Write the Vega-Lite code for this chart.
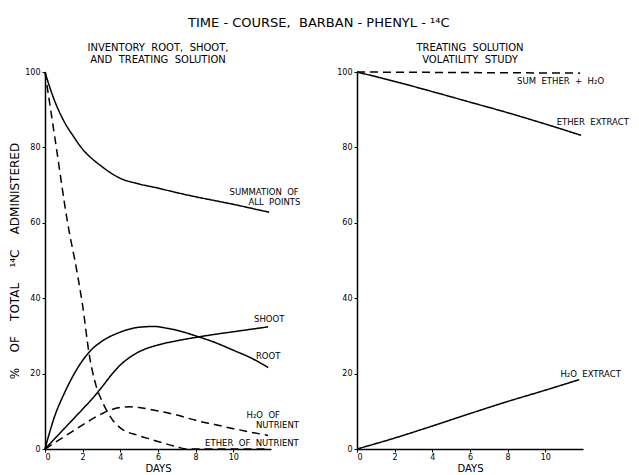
{
  "$schema": "https://vega.github.io/schema/vega-lite/v6.json",
  "background": "white",
  "padding": {"left": 8, "top": 17, "right": 5, "bottom": 5},
  "bounds": "flush",
  "spacing": 86,
  "resolve": {"scale": {"strokeDash": "independent"}},
  "title": {"text": "TIME - COURSE, \u00a0BARBAN - PHENYL - ¹⁴C", "fontSize": 13, "font": "DejaVu Sans", "fontWeight": "normal", "color": "black", "anchor": "middle", "offset": 13},
  "config": {
    "font": "DejaVu Sans",
    "view": {"stroke": null},
    "axis": {"grid": false, "domainColor": "black", "domainWidth": 1.5, "tickColor": "black", "labelColor": "black", "labelFontSize": 8, "titleColor": "black", "titleFontWeight": "normal", "labelFont": "DejaVu Sans", "titleFont": "DejaVu Sans"},
    "title": {"fontSize": 10, "fontWeight": "normal", "color": "black", "font": "DejaVu Sans", "offset": 3}
  },
  "datasets": {
    "left": [
      {"series": "summation", "day": 0, "value": 100}, {"series": "summation", "day": 0.25, "value": 96}, {"series": "summation", "day": 0.5, "value": 92.5}, {"series": "summation", "day": 1, "value": 87}, {"series": "summation", "day": 1.5, "value": 83}, {"series": "summation", "day": 2, "value": 79.5}, {"series": "summation", "day": 2.5, "value": 77}, {"series": "summation", "day": 3, "value": 75}, {"series": "summation", "day": 3.5, "value": 73.2}, {"series": "summation", "day": 4, "value": 71.8}, {"series": "summation", "day": 5, "value": 70.3}, {"series": "summation", "day": 6, "value": 69.2}, {"series": "summation", "day": 7, "value": 68}, {"series": "summation", "day": 8, "value": 66.9}, {"series": "summation", "day": 9, "value": 65.9}, {"series": "summation", "day": 10, "value": 64.9}, {"series": "summation", "day": 11, "value": 63.8}, {"series": "summation", "day": 11.9, "value": 62.8},
      {"series": "ether_nutrient", "day": 0, "value": 100}, {"series": "ether_nutrient", "day": 0.6, "value": 80}, {"series": "ether_nutrient", "day": 1.2, "value": 60}, {"series": "ether_nutrient", "day": 1.7, "value": 47}, {"series": "ether_nutrient", "day": 2, "value": 38}, {"series": "ether_nutrient", "day": 2.35, "value": 25}, {"series": "ether_nutrient", "day": 2.7, "value": 17}, {"series": "ether_nutrient", "day": 3, "value": 13}, {"series": "ether_nutrient", "day": 3.3, "value": 10}, {"series": "ether_nutrient", "day": 3.7, "value": 7}, {"series": "ether_nutrient", "day": 4, "value": 5.6}, {"series": "ether_nutrient", "day": 5, "value": 3.5}, {"series": "ether_nutrient", "day": 5.6, "value": 2.6}, {"series": "ether_nutrient", "day": 6, "value": 2}, {"series": "ether_nutrient", "day": 7, "value": 0.6}, {"series": "ether_nutrient", "day": 7.5, "value": 0}, {"series": "ether_nutrient", "day": 11.9, "value": 0},
      {"series": "root", "day": 0, "value": 0}, {"series": "root", "day": 0.25, "value": 4.5}, {"series": "root", "day": 0.5, "value": 8.5}, {"series": "root", "day": 1, "value": 14.5}, {"series": "root", "day": 1.5, "value": 19.5}, {"series": "root", "day": 2, "value": 23.5}, {"series": "root", "day": 2.5, "value": 26.5}, {"series": "root", "day": 3, "value": 28.5}, {"series": "root", "day": 4, "value": 31}, {"series": "root", "day": 5, "value": 32.3}, {"series": "root", "day": 5.8, "value": 32.5}, {"series": "root", "day": 6.5, "value": 32}, {"series": "root", "day": 7, "value": 31.5}, {"series": "root", "day": 8, "value": 30}, {"series": "root", "day": 9, "value": 28.3}, {"series": "root", "day": 10, "value": 26.2}, {"series": "root", "day": 11, "value": 24}, {"series": "root", "day": 11.85, "value": 21.6},
      {"series": "shoot", "day": 0, "value": 0}, {"series": "shoot", "day": 1, "value": 5.3}, {"series": "shoot", "day": 2, "value": 10.6}, {"series": "shoot", "day": 2.5, "value": 13.3}, {"series": "shoot", "day": 3, "value": 16.3}, {"series": "shoot", "day": 3.5, "value": 19.5}, {"series": "shoot", "day": 4, "value": 22.3}, {"series": "shoot", "day": 4.5, "value": 24.3}, {"series": "shoot", "day": 5, "value": 25.8}, {"series": "shoot", "day": 6, "value": 27.6}, {"series": "shoot", "day": 7, "value": 28.7}, {"series": "shoot", "day": 8, "value": 29.6}, {"series": "shoot", "day": 9, "value": 30.4}, {"series": "shoot", "day": 10, "value": 31.1}, {"series": "shoot", "day": 11, "value": 31.8}, {"series": "shoot", "day": 11.85, "value": 32.4},
      {"series": "h2o_nutrient", "day": 0, "value": 0}, {"series": "h2o_nutrient", "day": 1, "value": 3.2}, {"series": "h2o_nutrient", "day": 2, "value": 6.4}, {"series": "h2o_nutrient", "day": 3, "value": 9.3}, {"series": "h2o_nutrient", "day": 3.5, "value": 10.4}, {"series": "h2o_nutrient", "day": 4, "value": 11}, {"series": "h2o_nutrient", "day": 4.5, "value": 11.2}, {"series": "h2o_nutrient", "day": 5, "value": 11}, {"series": "h2o_nutrient", "day": 6, "value": 10.1}, {"series": "h2o_nutrient", "day": 7, "value": 9}, {"series": "h2o_nutrient", "day": 8, "value": 7.6}, {"series": "h2o_nutrient", "day": 9, "value": 6.5}, {"series": "h2o_nutrient", "day": 10, "value": 5.4}, {"series": "h2o_nutrient", "day": 11, "value": 4.4}, {"series": "h2o_nutrient", "day": 11.85, "value": 3.6}
    ],
    "right": [
      {"series": "sum", "day": 0, "value": 100}, {"series": "sum", "day": 11.85, "value": 99.7},
      {"series": "ether_extract", "day": 0, "value": 100}, {"series": "ether_extract", "day": 2, "value": 97.5}, {"series": "ether_extract", "day": 4, "value": 94.8}, {"series": "ether_extract", "day": 6, "value": 92}, {"series": "ether_extract", "day": 8, "value": 89.2}, {"series": "ether_extract", "day": 10, "value": 86.2}, {"series": "ether_extract", "day": 11.9, "value": 83.2},
      {"series": "h2o_extract", "day": 0, "value": 0}, {"series": "h2o_extract", "day": 2, "value": 2.9}, {"series": "h2o_extract", "day": 4, "value": 6.1}, {"series": "h2o_extract", "day": 6, "value": 9.4}, {"series": "h2o_extract", "day": 8, "value": 12.6}, {"series": "h2o_extract", "day": 10, "value": 15.6}, {"series": "h2o_extract", "day": 11.8, "value": 18.4}
    ],
    "leftLabels": [
      {"label": "SUMMATION \u00a0OF", "day": 9.8, "value": 68.3},
      {"label": "ALL \u00a0POINTS", "day": 10.8, "value": 65.6},
      {"label": "SHOOT", "day": 11.1, "value": 34.5},
      {"label": "ROOT", "day": 11.2, "value": 24.7},
      {"label": "H₂O \u00a0OF", "day": 10.7, "value": 9.0},
      {"label": "NUTRIENT", "day": 11.2, "value": 6.4},
      {"label": "ETHER \u00a0OF \u00a0NUTRIENT", "day": 8.5, "value": 1.7}
    ],
    "rightLabels": [
      {"label": "SUM \u00a0ETHER \u00a0+ \u00a0H₂O", "day": 8.5, "value": 97.6},
      {"label": "ETHER \u00a0EXTRACT", "day": 10.6, "value": 86.7},
      {"label": "H₂O \u00a0EXTRACT", "day": 10.8, "value": 20}
    ]
  },
  "hconcat": [
    {
      "width": 226,
      "height": 377,
      "title": {"text": ["INVENTORY \u00a0ROOT, \u00a0SHOOT,", "AND \u00a0TREATING \u00a0SOLUTION"], "anchor": "middle"},
      "layer": [
        {
          "data": {"name": "left"},
          "mark": {"type": "line", "interpolate": "monotone", "color": "black", "strokeWidth": 1.5},
          "encoding": {
            "x": {"field": "day", "type": "quantitative", "scale": {"domain": [0, 12], "nice": false}, "axis": {"values": [0, 2, 4, 6, 8, 10], "tickSize": 3, "title": "DAYS", "titleFontSize": 10, "titlePadding": 2, "labelPadding": 1}},
            "y": {"field": "value", "type": "quantitative", "scale": {"domain": [0, 100], "nice": false}, "axis": {"values": [0, 10, 20, 30, 40, 50, 60, 70, 80, 90, 100], "labelExpr": "datum.value % 20 === 0 ? datum.label : ''", "tickSize": 3, "labelPadding": 2, "title": "% \u00a0\u00a0\u00a0OF \u00a0\u00a0\u00a0TOTAL \u00a0\u00a0\u00a0¹⁴C \u00a0\u00a0\u00a0ADMINISTERED", "titleFontSize": 12, "titlePadding": 3}},
            "detail": {"field": "series", "type": "nominal"},
            "strokeDash": {"field": "series", "type": "nominal", "scale": {"domain": ["summation", "root", "shoot", "ether_nutrient", "h2o_nutrient"], "range": [[1, 0], [1, 0], [1, 0], [8, 5], [8, 5]]}, "legend": null}
          }
        },
        {
          "data": {"name": "leftLabels"},
          "mark": {"type": "text", "align": "left", "baseline": "middle", "fontSize": 8.5, "color": "black"},
          "encoding": {
            "x": {"field": "day", "type": "quantitative"},
            "y": {"field": "value", "type": "quantitative"},
            "text": {"field": "label"}
          }
        }
      ]
    },
    {
      "width": 226,
      "height": 377,
      "title": {"text": ["TREATING \u00a0SOLUTION", "VOLATILITY \u00a0STUDY"], "anchor": "middle"},
      "layer": [
        {
          "data": {"name": "right"},
          "mark": {"type": "line", "interpolate": "monotone", "color": "black", "strokeWidth": 1.5},
          "encoding": {
            "x": {"field": "day", "type": "quantitative", "scale": {"domain": [0, 12], "nice": false}, "axis": {"values": [0, 2, 4, 6, 8, 10], "tickSize": 3, "title": "DAYS", "titleFontSize": 10, "titlePadding": 2, "labelPadding": 1}},
            "y": {"field": "value", "type": "quantitative", "scale": {"domain": [0, 100], "nice": false}, "axis": {"values": [0, 10, 20, 30, 40, 50, 60, 70, 80, 90, 100], "labelExpr": "datum.value % 20 === 0 ? datum.label : ''", "tickSize": 3, "labelPadding": 2, "title": null}},
            "detail": {"field": "series", "type": "nominal"},
            "strokeDash": {"field": "series", "type": "nominal", "scale": {"domain": ["ether_extract", "h2o_extract", "sum"], "range": [[1, 0], [1, 0], [8, 5]]}, "legend": null}
          }
        },
        {
          "data": {"name": "rightLabels"},
          "mark": {"type": "text", "align": "left", "baseline": "middle", "fontSize": 8.5, "color": "black"},
          "encoding": {
            "x": {"field": "day", "type": "quantitative"},
            "y": {"field": "value", "type": "quantitative"},
            "text": {"field": "label"}
          }
        }
      ]
    }
  ]
}
